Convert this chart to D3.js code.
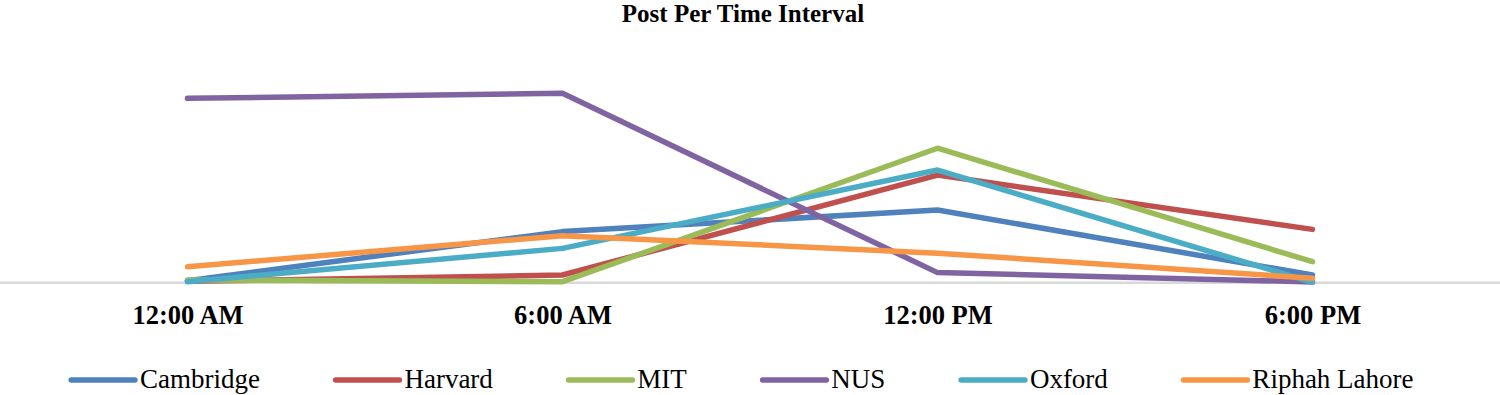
<!DOCTYPE html>
<html>
<head>
<meta charset="utf-8">
<script src="https://cdn.jsdelivr.net/npm/d3@7"></script>
<style>
  body { margin: 0; background: #fff; }
  svg { display: block; }
</style>
</head>
<body>
<svg id="chart" width="1500" height="395"></svg>
<script>
var times = ["12:00 AM", "6:00 AM", "12:00 PM", "6:00 PM"];

var cambridge = [0.8, 25.1, 35.8, 3.6];
var harvard   = [0.5, 3.6, 53.1, 26.2];
var mit       = [1.1, 0.3, 66.4, 10.2];
var nus       = [91.1, 93.6, 4.8, 0.2];
var oxford    = [0.3, 16.8, 55.6, 0];
var riphah    = [7.7, 23.1, 14.4, 2.0];

var seriesNames = ["Cambridge", "Harvard", "MIT", "NUS", "Oxford", "Riphah Lahore"];
var seriesValues = [cambridge, harvard, mit, nus, oxford, riphah];
var colors = ["#4F81BD", "#C0504D", "#9BBB59", "#8064A2", "#4BACC6", "#F79646"];

var svg = d3.select("#chart"),
    width = +svg.attr("width"),
    height = +svg.attr("height");

var x = d3.scalePoint()
    .domain(times)
    .range([0, width])
    .padding(0.5);

var y = d3.scaleLinear()
    .domain([0, 120])
    .range([282.3, 40]);

// title
svg.append("text")
    .attr("x", 743)
    .attr("y", 22)
    .attr("text-anchor", "middle")
    .attr("font-family", "Liberation Serif, Times New Roman, serif")
    .attr("font-weight", "bold")
    .attr("font-size", 25)
    .attr("fill", "#000")
    .text("Post Per Time Interval");

// category axis
var xAxis = d3.axisBottom(x).tickSize(0).tickPadding(0);

svg.append("g")
    .attr("transform", "translate(0," + y(0) + ")")
    .call(customXAxis);

function customXAxis(g) {
  g.call(xAxis);
  g.select(".domain").attr("stroke", "#D9D9D9").attr("stroke-width", 2.5);
  g.selectAll(".tick text")
      .attr("y", 42)
      .attr("dy", 0)
      .attr("fill", "#000")
      .attr("font-family", "Liberation Serif, Times New Roman, serif")
      .attr("font-weight", "bold")
      .attr("font-size", 26.5);
}
// axis domain spans whole width like the plot area
svg.select(".domain").attr("d", "M0,0.5H" + width);

var line = d3.line()
    .x(function(d, i) { return x(times[i]); })
    .y(function(d) { return y(d); });

svg.append("g")
  .selectAll("path")
  .data(seriesValues)
  .enter().append("path")
    .attr("fill", "none")
    .attr("stroke", function(d, i) { return colors[i]; })
    .attr("stroke-width", 5.5)
    .attr("stroke-linejoin", "round")
    .attr("stroke-linecap", "round")
    .attr("d", line);

// legend
var legend = svg.append("g").attr("transform", "translate(0,380)");

var items = legend.selectAll("g")
  .data(seriesNames)
  .enter().append("g");

items.append("line")
    .attr("x1", 2.75)
    .attr("x2", 66.5)
    .attr("y1", 0)
    .attr("y2", 0)
    .attr("stroke", function(d, i) { return colors[i]; })
    .attr("stroke-width", 5.5)
    .attr("stroke-linecap", "round");

items.append("text")
    .attr("x", 71.5)
    .attr("y", 8)
    .attr("font-family", "Liberation Serif, Times New Roman, serif")
    .attr("font-size", 27)
    .attr("fill", "#000")
    .text(function(d) { return d; });

var gap = 73, offsets = [], pos = 0;
items.each(function() {
  var w = 71.5 + d3.select(this).select("text").node().getComputedTextLength();
  offsets.push(pos);
  pos += w + gap;
});
var total = pos - gap,
    start = 741 - total / 2;
items.attr("transform", function(d, i) { return "translate(" + (start + offsets[i]) + ",0)"; });
</script>
</body>
</html>
